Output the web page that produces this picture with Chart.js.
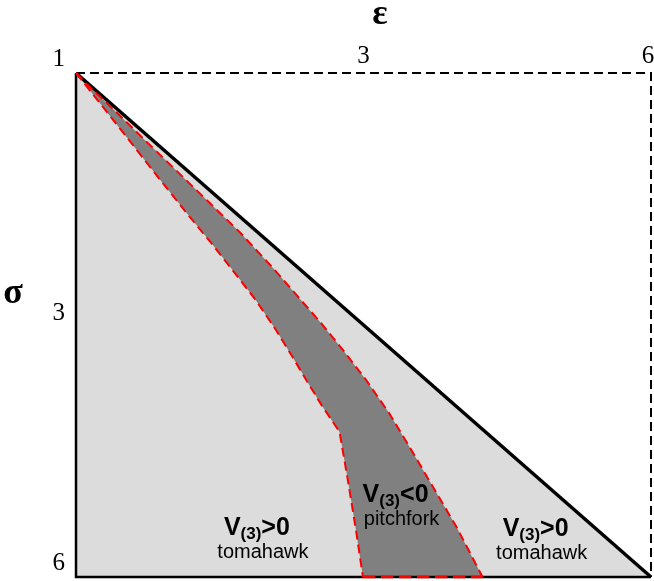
<!DOCTYPE html>
<html>
<head>
<meta charset="utf-8">
<script src="https://cdn.jsdelivr.net/npm/chart.js@4/dist/chart.umd.min.js"></script>
<style>
  html, body { margin: 0; padding: 0; background: #fff; }
  canvas { display: block; }
</style>
</head>
<body>
<canvas id="chart" width="654" height="581"></canvas>
<script>
// ε / σ phase diagram: V(3) sign regions

const TICKS = [1, 3, 6];
const X_TICKS = [3, 6];

// left red boundary of the V(3)<0 band
const leftEps = [1.00, 1.11, 1.27, 1.47, 1.65, 1.80, 1.96, 2.11, 2.26, 2.39, 2.50, 2.62, 2.77, 2.84, 2.91, 2.97];
const leftSig = [1.00, 1.16, 1.40, 1.71, 1.99, 2.22, 2.48, 2.73, 3.02, 3.30, 3.55, 3.82, 4.13, 4.71, 5.36, 6.00];

// right red boundary
const rightEps = [1.00, 1.05, 1.18, 1.41, 1.79, 2.00, 2.25, 2.41, 2.62, 2.80, 3.00, 3.20, 3.39, 3.61, 3.84, 4.10];
const rightSig = [1.00, 1.06, 1.20, 1.46, 1.89, 2.13, 2.45, 2.67, 2.96, 3.23, 3.55, 3.91, 4.31, 4.80, 5.32, 6.00];

// region labels
const regionSign = ['>0', '<0', '>0'];
const regionName = ['tomahawk', 'pitchfork', 'tomahawk'];
const regionEps = [2.12, 3.26, 4.66];
const regionSig = [5.42, 4.99, 5.44];

const pts = (xs, ys) => xs.map((x, i) => ({ x: x, y: ys[i] }));

// axis that is linear in sqrt(value)
class SqrtScale extends Chart.LinearScale {
  getPixelForValue(value) {
    const a = Math.sqrt(this.min), b = Math.sqrt(this.max);
    return this.getPixelForDecimal((Math.sqrt(value) - a) / (b - a));
  }
  getValueForPixel(pixel) {
    const a = Math.sqrt(this.min), b = Math.sqrt(this.max);
    const s = a + this.getDecimalForPixel(pixel) * (b - a);
    return s * s;
  }
}
SqrtScale.id = 'sqrt';
SqrtScale.defaults = Chart.LinearScale.defaults;
Chart.register(SqrtScale);

const lo = TICKS[0], hi = TICKS[TICKS.length - 1];
const band = pts(leftEps, leftSig).concat(pts(rightEps, rightSig).reverse());

const labelsPlugin = {
  id: 'regionLabels',
  afterDraw(chart) {
    const ctx = chart.ctx;
    const xs = chart.scales.x, ys = chart.scales.y;
    ctx.save();
    ctx.fillStyle = '#000';
    ctx.textBaseline = 'alphabetic';

    regionSign.forEach((sign, i) => {
      const cx = xs.getPixelForValue(regionEps[i]);
      const by = ys.getPixelForValue(regionSig[i]);
      const big = 'bold 25px "Liberation Sans", Arial, sans-serif';
      const small = 'bold 17px "Liberation Sans", Arial, sans-serif';
      ctx.font = big;
      const wV = ctx.measureText('V').width;
      const wS = ctx.measureText(sign).width;
      ctx.font = small;
      const wSub = ctx.measureText('(3)').width;
      let x = cx - (wV + wSub + wS) / 2;
      ctx.textAlign = 'left';
      ctx.font = big;
      ctx.fillText('V', x, by);
      x += wV;
      ctx.font = small;
      ctx.fillText('(3)', x, by + 4);
      x += wSub;
      ctx.font = big;
      ctx.fillText(sign, x, by);

      ctx.textAlign = 'center';
      ctx.font = '20px "Liberation Sans", Arial, sans-serif';
      ctx.fillText(regionName[i], cx + 6, by + 23);
    });

    // axis titles
    ctx.textAlign = 'center';
    ctx.textBaseline = 'middle';
    ctx.font = 'bold 36px "Liberation Serif", "Times New Roman", serif';
    ctx.fillText('ε', 380, 15);
    ctx.fillText('σ', 13, 294);
    ctx.restore();
  }
};

new Chart(document.getElementById('chart'), {
  type: 'scatter',
  data: {
    datasets: [
      {
        // light grey triangle below the diagonal
        data: pts([lo, lo, hi], [lo, hi, hi]),
        showLine: true, fill: 'shape', backgroundColor: '#dcdcdc',
        borderWidth: 0, pointRadius: 0, order: 10
      },
      {
        // V(3)<0 band
        data: band,
        showLine: true, fill: 'shape', backgroundColor: '#808080',
        borderWidth: 0, pointRadius: 0, order: 9
      },
      {
        // solid left + bottom frame
        data: pts([lo, lo, hi], [lo, hi, hi]),
        showLine: true, borderColor: '#000', borderWidth: 2.5,
        pointRadius: 0, order: 6
      },
      {
        // dashed top + right frame
        data: pts([lo, hi, hi], [lo, lo, hi]),
        showLine: true, borderColor: '#000', borderWidth: 2,
        borderDash: [9, 5], pointRadius: 0, order: 6
      },
      {
        // diagonal ε = σ
        data: pts([lo, hi], [lo, hi]),
        showLine: true, borderColor: '#000', borderWidth: 3.5,
        pointRadius: 0, order: 5
      },
      {
        data: pts(leftEps, leftSig),
        showLine: true, borderColor: '#ff0000', borderWidth: 2,
        borderDash: [9, 5], pointRadius: 0, order: 2
      },
      {
        data: pts(rightEps, rightSig),
        showLine: true, borderColor: '#ff0000', borderWidth: 2,
        borderDash: [9, 5], pointRadius: 0, order: 2
      },
      {
        data: pts([leftEps[leftEps.length - 1], rightEps[rightEps.length - 1]], [hi, hi]),
        showLine: true, borderColor: '#ff0000', borderWidth: 2.5,
        borderDash: [12, 6], pointRadius: 0, order: 1
      }
    ]
  },
  options: {
    responsive: false,
    animation: false,
    devicePixelRatio: 1,
    clip: false,
    layout: { padding: { left: 0, top: 0, right: 3, bottom: 4 } },
    plugins: { legend: { display: false }, tooltip: { enabled: false } },
    scales: {
      x: {
        type: 'sqrt', position: 'top', min: lo, max: hi,
        grid: { display: false, drawTicks: false }, border: { display: false },
        afterBuildTicks: (s) => { s.ticks = X_TICKS.map(v => ({ value: v })); },
        afterFit: (s) => { s.height = 73; s.paddingLeft = 0; s.paddingRight = 0; },
        ticks: {
          color: '#000', padding: 2, labelOffset: -3, maxRotation: 0, autoSkip: false,
          font: { family: '"Liberation Serif", "Times New Roman", serif', size: 25 }
        }
      },
      y: {
        type: 'sqrt', min: lo, max: hi, reverse: true,
        grid: { display: false, drawTicks: false }, border: { display: false },
        afterBuildTicks: (s) => { s.ticks = TICKS.map(v => ({ value: v })); },
        afterFit: (s) => { s.width = 76; s.paddingTop = 0; s.paddingBottom = 0; },
        ticks: {
          color: '#000', padding: 11, labelOffset: -14, autoSkip: false,
          font: { family: '"Liberation Serif", "Times New Roman", serif', size: 25 }
        }
      }
    }
  },
  plugins: [labelsPlugin]
});
</script>
</body>
</html>
